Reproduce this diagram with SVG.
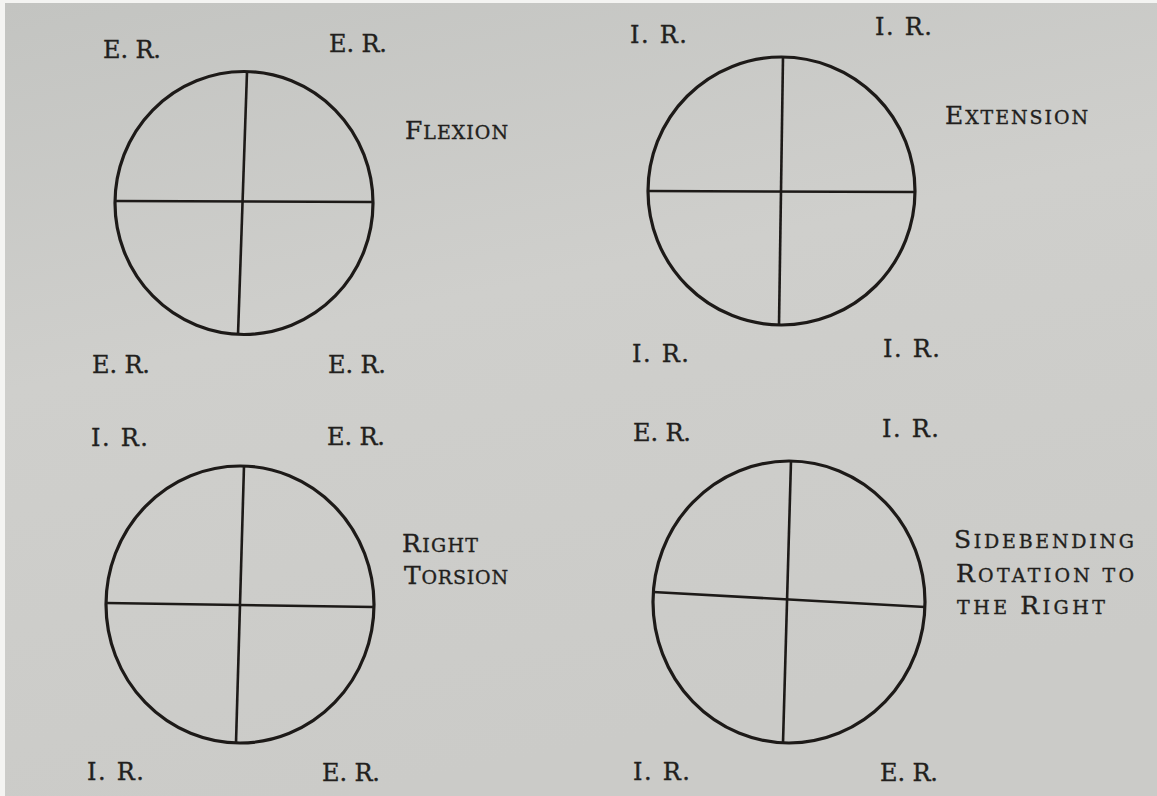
<svg xmlns="http://www.w3.org/2000/svg" width="1157" height="796" viewBox="0 0 1157 796">
  <defs>
    <linearGradient id="paper" x1="0" y1="0" x2="0.3" y2="1">
      <stop offset="0" stop-color="#c3c4c1"/>
      <stop offset="0.45" stop-color="#cfcfcc"/>
      <stop offset="1" stop-color="#cbcbc8"/>
    </linearGradient>
    <style>
      .ring { fill: none; stroke: #1d1a18; stroke-width: 3.2; }
      .axis { fill: none; stroke: #1d1a18; stroke-width: 2.6; stroke-linecap: butt; }
      .lbl { font-family: "DejaVu Serif", "Liberation Serif", serif; font-size: 24px; fill: #221f1d; stroke: #221f1d; stroke-width: 0.35; }
      .ttl { font-family: "DejaVu Serif", "Liberation Serif", serif; font-size: 25px; fill: #221f1d; stroke: #221f1d; stroke-width: 0.35; }
      .sc { font-size: 19px; }
    </style>
  </defs>

  <rect x="0" y="0" width="1157" height="796" fill="#f4f4f2"/>
  <rect x="5" y="3" width="1152" height="793" fill="url(#paper)"/>

  <g id="flexion">
    <ellipse class="ring" cx="244" cy="203" rx="129" ry="131.5"/>
    <line class="axis" x1="247" y1="72" x2="238" y2="335"/>
    <line class="axis" x1="115" y1="201" x2="373" y2="202"/>
    <text class="lbl" x="103" y="58" textLength="58" lengthAdjust="spacing">E. R.</text>
    <text class="lbl" x="329" y="52" textLength="58" lengthAdjust="spacing">E. R.</text>
    <text class="lbl" x="92" y="373" textLength="58" lengthAdjust="spacing">E. R.</text>
    <text class="lbl" x="328" y="373" textLength="58" lengthAdjust="spacing">E. R.</text>
    <text class="ttl" x="405" y="139" textLength="103" lengthAdjust="spacing">F<tspan class="sc">LEXION</tspan></text>
  </g>

  <g id="extension">
    <ellipse class="ring" cx="781.5" cy="191" rx="133.5" ry="134"/>
    <line class="axis" x1="783" y1="57" x2="779" y2="325"/>
    <line class="axis" x1="648" y1="191" x2="915" y2="192"/>
    <text class="lbl" x="630" y="43" textLength="57" lengthAdjust="spacing">I. R.</text>
    <text class="lbl" x="875" y="35" textLength="57" lengthAdjust="spacing">I. R.</text>
    <text class="lbl" x="632" y="362" textLength="57" lengthAdjust="spacing">I. R.</text>
    <text class="lbl" x="883" y="357" textLength="57" lengthAdjust="spacing">I. R.</text>
    <text class="ttl" x="945" y="124" textLength="143" lengthAdjust="spacing">E<tspan class="sc">XTENSION</tspan></text>
  </g>

  <g id="right-torsion">
    <ellipse class="ring" cx="240" cy="604.5" rx="134" ry="138.5"/>
    <line class="axis" x1="244" y1="466" x2="236" y2="743"/>
    <line class="axis" x1="106" y1="603" x2="374" y2="607"/>
    <text class="lbl" x="91" y="446" textLength="57" lengthAdjust="spacing">I. R.</text>
    <text class="lbl" x="327" y="445" textLength="58" lengthAdjust="spacing">E. R.</text>
    <text class="lbl" x="87" y="780" textLength="57" lengthAdjust="spacing">I. R.</text>
    <text class="lbl" x="322" y="781" textLength="58" lengthAdjust="spacing">E. R.</text>
    <text class="ttl" x="402" y="552" textLength="76" lengthAdjust="spacing">R<tspan class="sc">IGHT</tspan></text>
    <text class="ttl" x="404" y="584" textLength="104" lengthAdjust="spacing">T<tspan class="sc">ORSION</tspan></text>
  </g>

  <g id="sidebending-rotation">
    <ellipse class="ring" cx="789" cy="602" rx="136" ry="141"/>
    <line class="axis" x1="791" y1="461" x2="783" y2="743"/>
    <line class="axis" x1="653" y1="592" x2="925" y2="607"/>
    <text class="lbl" x="633" y="441" textLength="58" lengthAdjust="spacing">E. R.</text>
    <text class="lbl" x="882" y="437" textLength="57" lengthAdjust="spacing">I. R.</text>
    <text class="lbl" x="633" y="780" textLength="57" lengthAdjust="spacing">I. R.</text>
    <text class="lbl" x="880" y="781" textLength="58" lengthAdjust="spacing">E. R.</text>
    <text class="ttl" x="954" y="548" textLength="180" lengthAdjust="spacing">S<tspan class="sc">IDEBENDING</tspan></text>
    <text class="ttl" x="956" y="582" textLength="178" lengthAdjust="spacing">R<tspan class="sc">OTATION TO</tspan></text>
    <text class="ttl" x="957" y="614" textLength="148" lengthAdjust="spacing"><tspan class="sc">THE </tspan>R<tspan class="sc">IGHT</tspan></text>
  </g>
</svg>
